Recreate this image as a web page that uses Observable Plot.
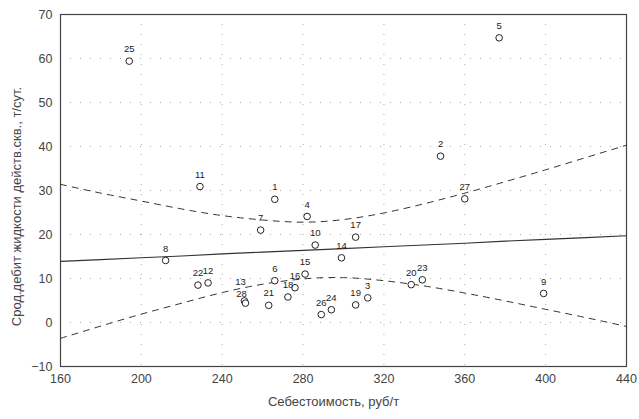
<!DOCTYPE html>
<html>
<head>
<meta charset="utf-8">
<script src="https://cdn.jsdelivr.net/npm/d3@7"></script>
<script src="https://cdn.jsdelivr.net/npm/@observablehq/plot@0.6"></script>
<style>
  html, body { margin: 0; padding: 0; background: #fff; }
  svg { display: block; }
</style>
</head>
<body>
<div id="chart"></div>
<script>
// Point data (cost, rub/t ; average liquid flow rate, t/day)
const ids   = ["1","2","3","4","5","6","7","8","9","10","11","12","13","14","15","16","17","18","19","20","21","22","23","24","25","26","27","28"];
const cost  = [266, 348, 312, 282, 377, 266, 259, 212, 399, 286, 229, 233, 251, 299, 281, 276, 306, 272.5, 306, 333.5, 263, 228, 339, 294, 194, 289, 360, 251.5];
const rate  = [28.0, 37.8, 5.6, 24.1, 64.7, 9.5, 21.0, 14.1, 6.6, 17.6, 30.9, 9.0, 4.9, 14.7, 11.0, 7.9, 19.4, 5.8, 4.0, 8.6, 3.9, 8.5, 9.7, 2.9, 59.4, 1.8, 28.1, 4.4];

// Regression line and confidence band
const lineX  = [160, 180, 200, 220, 240, 260, 280, 300, 320, 340, 360, 380, 400, 420, 440];
const fitY   = [13.9, 14.3, 14.7, 15.1, 15.6, 16.0, 16.4, 16.8, 17.2, 17.6, 18.0, 18.5, 18.9, 19.3, 19.7];
const upperY = [31.4, 29.4, 27.6, 25.8, 24.3, 23.3, 22.8, 23.4, 24.9, 27.0, 29.4, 32.0, 34.7, 37.5, 40.3];
const lowerY = [-3.6, -0.8, 1.9, 4.4, 6.8, 8.7, 9.9, 10.2, 9.5, 8.3, 6.7, 4.9, 3.0, 1.1, -0.9];

const xTicks = [160, 200, 240, 280, 320, 360, 400, 440];
const yTicks = [-10, 0, 10, 20, 30, 40, 50, 60, 70];

const xLabel = "Себестоимость, руб/т";
const yLabel = "Срод.дебит жидкости действ.скв., т/сут.";

const points = ids.map((id, i) => ({id, x: cost[i], y: rate[i]}));
const fit = lineX.map((x, i) => ({x, y: fitY[i]}));
const upper = lineX.map((x, i) => ({x, y: upperY[i]}));
const lower = lineX.map((x, i) => ({x, y: lowerY[i]}));

const ink = "#333";
const stacked = new Set(["13", "28"]);

const chart = Plot.plot({
  width: 639,
  height: 419,
  marginLeft: 60,
  marginRight: 13,
  marginTop: 14,
  marginBottom: 53,
  style: {fontFamily: "Liberation Sans, Arial, sans-serif", fontSize: "11px", color: ink, background: "#fff"},
  x: {domain: [160, 440], ticks: xTicks},
  y: {domain: [-10, 70], ticks: yTicks},
  marks: [
    Plot.gridX(xTicks, {stroke: "#888", strokeOpacity: 0.7, strokeDasharray: "1,9"}),
    Plot.gridY(yTicks, {stroke: "#888", strokeOpacity: 0.7, strokeDasharray: "1,9"}),
    Plot.frame({stroke: "#444", strokeWidth: 1.2}),
    Plot.axisX(xTicks, {tickSize: 0, tickPadding: 8, label: null, fontSize: 12.5, fill: "#444"}),
    Plot.axisY(yTicks, {tickSize: 0, tickPadding: 8, label: null, fontSize: 12.5, fill: "#444"}),
    Plot.line(upper, {x: "x", y: "y", stroke: ink, strokeWidth: 1, strokeDasharray: "6,6", curve: "natural"}),
    Plot.line(lower, {x: "x", y: "y", stroke: ink, strokeWidth: 1, strokeDasharray: "6,6", curve: "natural"}),
    Plot.line(fit, {x: "x", y: "y", stroke: ink, strokeWidth: 1.1}),
    Plot.dot(points, {x: "x", y: "y", r: 3.3, stroke: "#222", strokeWidth: 1, fill: "#fff"}),
    Plot.text(points.filter(d => !stacked.has(d.id)), {x: "x", y: "y", text: "id", dy: -12, fontSize: 9.5, fill: "#222"}),
    Plot.text(points.filter(d => d.id === "13"), {x: "x", y: "y", text: "id", dx: -4, dy: -19, fontSize: 9.5, fill: "#222"}),
    Plot.text(points.filter(d => d.id === "28"), {x: "x", y: "y", text: "id", dx: -4, dy: -9, fontSize: 9.5, fill: "#222"}),
    Plot.text([xLabel], {frameAnchor: "bottom", dx: -10, dy: 39, fontSize: 13, fill: "#444"}),
    Plot.text([yLabel], {frameAnchor: "left", textAnchor: "middle", rotate: -90, dx: -44, dy: 16, fontSize: 13, fill: "#444"})
  ]
});

document.getElementById("chart").appendChild(chart);
</script>
</body>
</html>
